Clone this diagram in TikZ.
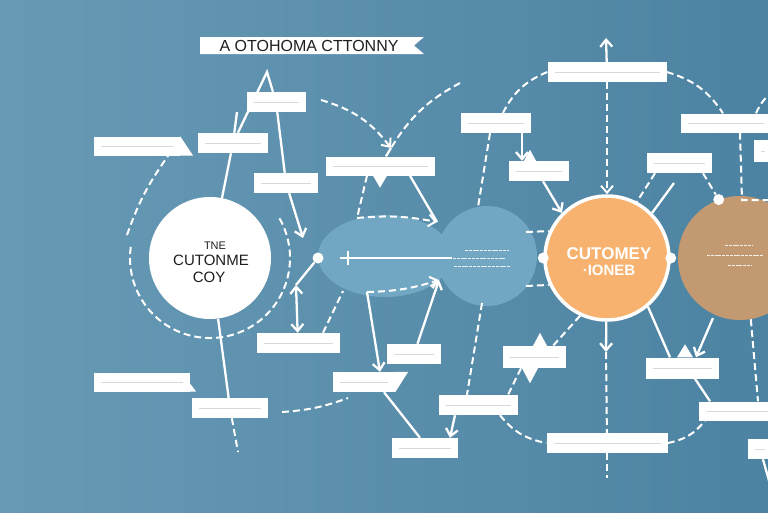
\documentclass[tikz,border=0pt]{standalone}
\usepackage{fontspec}
\setmainfont{Liberation Sans}
\usetikzlibrary{arrows.meta}
\definecolor{bgl}{RGB}{104,154,181}
\definecolor{bgr}{RGB}{76,131,162}
\definecolor{blobc}{RGB}{114,167,196}
\definecolor{orangec}{RGB}{246,178,110}
\definecolor{brownc}{RGB}{194,153,113}
\definecolor{inkc}{RGB}{30,30,30}
\begin{document}
\begin{tikzpicture}[x=1pt, y=-1pt, >={Straight Barb[length=7pt,width=12pt]},
    lbl/.style={fill=white, inner sep=0pt, path picture={
        \draw [gray!30, line width=.8pt] ([xshift=7pt]path picture bounding box.west)
            -- ([xshift=-7pt]path picture bounding box.east);}},
    conn/.style={white, line width=2.3pt},
    dconn/.style={white, line width=2pt, dash pattern=on 7pt off 4pt},
    knob/.style={circle, fill=white, inner sep=0pt, minimum size=11pt},
    tiny/.style={white, line width=.9pt, dash pattern=on 3pt off .8pt, opacity=.85}]
    \clip (0,0) rectangle (768,512);
    \shade [left color=bgl, right color=bgr] (0,0) rectangle (768,512);
    \fill [blobc] (385,256) ellipse [x radius=67pt, y radius=41pt];
    \fill [blobc] (487,256) circle [radius=50pt];
    \draw [conn] (340,258) -- (452,258);
    \draw [conn, line width=1.2pt] (348,251) -- (348,265);
    \draw [tiny] (465,250) -- (509,250);
    \draw [tiny] (453,258) -- (505,258);
    \draw [tiny] (454,266) -- (511,266);
    % title banner
    \fill [white] (200,37) -- (424,37) -- (414,45.5) -- (424,54) -- (200,54) -- cycle;
    \node [text=inkc, font=\fontsize{16}{18}\selectfont] (title) at (309,45.5) {A OTOHOMA CTTONNY};
    % circles
    \node [circle, fill=brownc, minimum size=124pt, inner sep=0pt] (dest) at (740,258) {};
    \draw [tiny] (725,245) -- (752,245);
    \draw [tiny] (707,255) -- (763,255);
    \draw [tiny] (728,265) -- (752,265);
    \node [circle, fill=white, minimum size=122pt, inner sep=0pt] (cust) at (210,258) {};
    \node [text=inkc, font=\fontsize{11}{13}\selectfont] (cust1) at (215,246) {TNE};
    \node [text=inkc, font=\fontsize{15}{17}\selectfont] (cust2) at (211,260.5) {CUTONME};
    \node [text=inkc, font=\fontsize{15}{17}\selectfont] (cust3) at (209,277.5) {COY};
    \node [circle, fill=orangec, draw=white, line width=3.5pt, minimum size=124pt, inner sep=0pt] (jour) at (607,258) {};
    \node [text=white, font=\bfseries\fontsize{17}{19}\selectfont] (jour1) at (609,254) {CUTOMEY};
    \node [text=white, font=\bfseries\fontsize{15}{17}\selectfont] (jour2) at (609,270) {·IONEB};
    % boxes
    \node [lbl, minimum width=86pt, minimum height=19pt] (b1) at (137,146) {};
    \fill [white] (b1.north east) -- ([xshift=13pt]b1.south east) -- (b1.south east) -- cycle;
    \node [lbl, minimum width=70pt, minimum height=20pt] (b2) at (233,143) {};
    \node [lbl, minimum width=59pt, minimum height=20pt] (b3) at (276,102) {};
    \node [lbl, minimum width=64pt, minimum height=20pt] (b4) at (286,183) {};
    \node [lbl, minimum width=109pt, minimum height=19pt] (b5) at (380,166) {};
    \fill [white] ([xshift=-7pt]b5.south) -- ([xshift=7pt]b5.south) -- ([yshift=-12pt]b5.south) -- cycle;
    \node [lbl, minimum width=70pt, minimum height=20pt] (b6) at (496,123) {};
    \node [lbl, minimum width=60pt, minimum height=20pt] (b7) at (539,171) {};
    \fill [white] ([xshift=-15pt]b7.north) -- ([xshift=-3pt]b7.north) -- ([xshift=-9pt, yshift=11pt]b7.north) -- cycle;
    \node [lbl, minimum width=65pt, minimum height=20pt] (b8) at (679,163) {};
    \node [lbl, minimum width=90pt, minimum height=19pt] (b9) at (726,123) {};
    \node [lbl, minimum width=83pt, minimum height=20pt] (b10) at (298,343) {};
    \node [lbl, minimum width=96pt, minimum height=19pt] (b11) at (142,382) {};
    \fill [white] (b11.south east) -- ([xshift=6pt]b11.south east) -- ([yshift=8pt]b11.south east) -- cycle;
    \node [lbl, minimum width=76pt, minimum height=20pt] (b12) at (230,408) {};
    \node [lbl, minimum width=54pt, minimum height=20pt] (b13) at (414,354) {};
    \node [lbl, minimum width=62pt, minimum height=20pt] (b14) at (364,382) {};
    \fill [white] (b14.north east) -- ([xshift=13pt]b14.north east) -- (b14.south east) -- cycle;
    \node [lbl, minimum width=79pt, minimum height=20pt] (b15) at (478,405) {};
    \node [lbl, minimum width=66pt, minimum height=20pt] (b16) at (425,448) {};
    \node [lbl, minimum width=63pt, minimum height=22pt] (b17) at (534,357) {};
    \fill [white] ([xshift=-1pt]b17.north) -- ([xshift=13pt]b17.north) -- ([xshift=6pt, yshift=13pt]b17.north) -- cycle;
    \fill [white] ([xshift=-12pt]b17.south) -- ([xshift=4pt]b17.south) -- ([xshift=-4pt, yshift=-15pt]b17.south) -- cycle;
    \node [lbl, minimum width=73pt, minimum height=21pt] (b18) at (682,368) {};
    \fill [white] ([xshift=-5pt]b18.north) -- ([xshift=11pt]b18.north) -- ([xshift=3pt, yshift=13pt]b18.north) -- cycle;
    \node [lbl, minimum width=82pt, minimum height=19pt] (b19) at (740,411) {};
    \node [lbl, minimum width=121pt, minimum height=20pt] (b20) at (607,443) {};
    \node [lbl, minimum width=119pt, minimum height=20pt] (b21) at (607,72) {};
    \node [lbl, minimum width=18pt, minimum height=22pt] (b22) at (763,151) {};
    \node [lbl, minimum width=24pt, minimum height=20pt] (b23) at (760,449) {};
    % free ends
    \coordinate (apex) at (267,72);
    \coordinate (a1) at (303,238);
    \coordinate (t2) at (237,112);
    \coordinate (c1) at (238,452);
    \coordinate (l1) at (127,235);
    \coordinate (x1) at (321,100);
    \coordinate (x2) at (460,83);
    \coordinate (cr) at (391,148);
    \coordinate (w1) at (357,218);
    \coordinate (w2) at (437,222);
    \coordinate (w3) at (367,292);
    \coordinate (w4) at (439,280);
    \coordinate (w5) at (343,291);
    \coordinate (w6) at (482,303);
    \coordinate (w7) at (478,207);
    \coordinate (w8) at (526,232);
    \coordinate (w9) at (526,286);
    \coordinate (k1) at (296,285);
    \coordinate (f1) at (282,412);
    \coordinate (f2) at (348,398);
    \coordinate (t1) at (606,38);
    \coordinate (q1) at (674,183);
    \coordinate (q2) at (713,318);
    \coordinate (q3) at (776,505);
    \coordinate (r1) at (742,200);
    \coordinate (r2) at (772,200);
    \coordinate (r3) at (775,90);
    \coordinate (o2) at (606,352);
    \coordinate (o3) at (607,478);
    \node [knob] (kb) at (318,258) {};
    \node [knob] (kw) at (jour.west) {};
    \node [knob] (ke) at (jour.east) {};
    \node [knob] (kr) at (dest.110) {};
    % left part
    \draw [conn] (cust) -- (b2);
    \draw [conn] (b2) -- (apex) -- (b3);
    \draw [conn] (b3) -- (b4);
    \draw [conn, ->] (b4) -- (a1);
    \draw [conn] (t2) -- (b2);
    \draw [conn] (cust) -- (b12);
    \draw [dconn] (b12) -- (c1);
    \draw [dconn] ([shift={(172:80pt)}]cust.center) arc [start angle=172, end angle=392, radius=80pt];
    \draw [dconn] (l1) to [bend left=8] ([xshift=-12pt]b1.south east);
    \draw [dconn] (f1) to [bend right=8] (f2);
    % around the blob
    \draw [dconn, ->] (x1) to [bend left=18] (cr);
    \draw [dconn] (x2) to [bend right=15] (cr);
    \draw [conn] (cr) -- (b5);
    \draw [dconn] ([xshift=-13pt]b5.south) -- (w1);
    \draw [conn] ([xshift=30pt]b5.south) -- (w2);
    \draw [dconn, ->] (w1) to [bend left=8] (w2);
    \draw [dconn, ->] (w3) to [bend right=8] (w4);
    \draw [conn, ->] (w3) -- ([xshift=16pt]b14.north);
    \draw [conn, ->] (b13) -- (w4);
    \draw [conn] (kb) -- (k1);
    \draw [conn, <->] (k1) -- (b10);
    \draw [dconn] ([xshift=25pt]b10.north) -- (w5);
    \draw [conn] ([xshift=20pt]b14.south) -- ([xshift=-5pt]b16.north);
    \draw [dconn] (w6) -- ([xshift=-11pt]b15.north);
    \draw [conn, ->] ([xshift=-23pt]b15.south) -- ([xshift=25pt]b16.north);
    % top part
    \draw [conn, ->] (b21) -- (t1);
    \draw [dconn, ->] (b21) -- (jour);
    \draw [dconn] (b21.west) to [bend right=20] ([xshift=7pt]b6.north);
    \draw [dconn] (b21.east) to [bend left=20] ([xshift=-3pt]b9.north);
    \draw [dconn] ([xshift=-6pt]b6.south) -- (w7);
    \draw [conn, ->] ([xshift=26pt]b6.south) -- ([xshift=-17pt]b7.north);
    \draw [conn, ->] ([xshift=4pt]b7.south) -- (jour.135);
    \draw [dconn] ([xshift=-24pt]b8.south) -- (jour.62);
    \draw [conn] (q1) -- (jour.45);
    \draw [dconn] ([xshift=24pt]b8.south) -- (kr);
    \draw [dconn] ([xshift=14pt]b9.south) -- (r1) -- (r2);
    \draw [dconn] ([xshift=30pt]b9.north) to [bend left=15] (r3);
    \draw [dconn] (w8) -- (jour.155);
    \draw [dconn] (w9) -- (jour.205);
    % bottom part
    \draw [conn, ->] (jour) -- (o2);
    \draw [dconn] (o2) -- (b20);
    \draw [dconn] (b20) -- (o3);
    \draw [dconn] (jour.245) -- ([xshift=19pt]b17.north);
    \draw [dconn] ([xshift=-13pt]b17.south) -- ([xshift=30pt]b15.north);
    \draw [dconn] ([xshift=22pt]b15.south) to [bend right=20] (b20.west);
    \draw [dconn] (b20.east) to [bend right=20] ([xshift=-35pt]b19.south);
    \draw [conn] (jour.310) -- ([xshift=-12pt]b18.north);
    \draw [conn, ->] (q2) -- ([xshift=14pt]b18.north);
    \draw [conn] ([xshift=13pt]b18.south) -- ([xshift=-30pt]b19.north);
    \draw [dconn] (dest.280) -- ([xshift=18pt]b19.north);
    \draw [conn] (b23) -- (q3);
\end{tikzpicture}
\end{document}
